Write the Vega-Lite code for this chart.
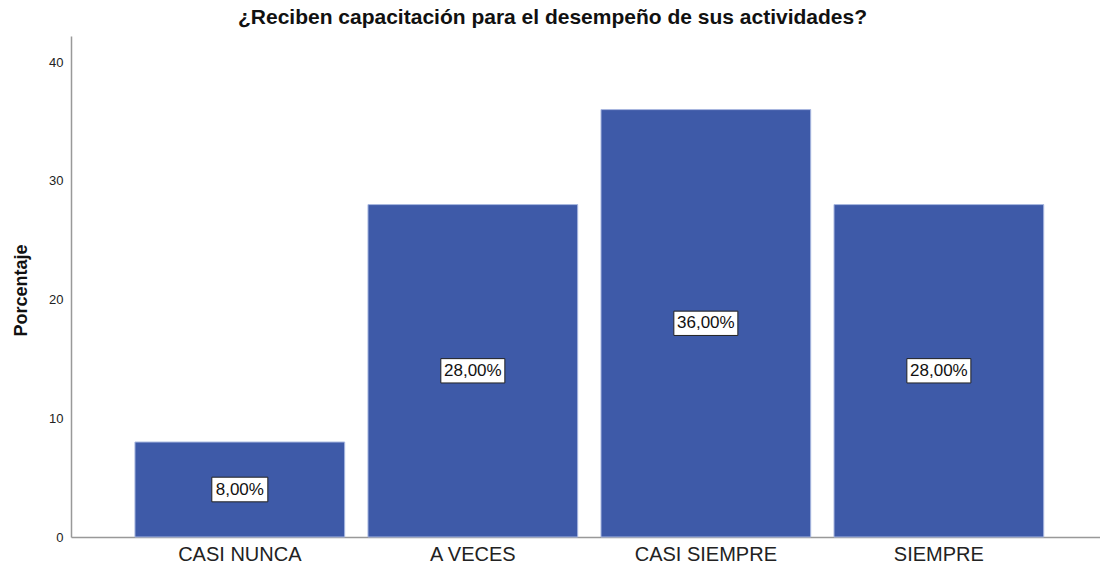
{
  "$schema": "https://vega.github.io/schema/vega-lite/v6.json",
  "autosize": "none",
  "width": 1029,
  "height": 501,
  "padding": {"left": 71, "top": 36, "right": 0, "bottom": 30},
  "background": "white",
  "config": {"view": {"stroke": null}, "font": "Liberation Sans"},
  "title": {"text": "¿Reciben capacitación para el desempeño de sus actividades?", "fontSize": 21, "fontWeight": "bold", "font": "Liberation Sans", "color": "#111", "anchor": "middle", "dx": -33, "offset": 8},
  "data": {"values": [
    {"cat": "CASI NUNCA", "value": 8, "label": "8,00%"},
    {"cat": "A VECES", "value": 28, "label": "28,00%"},
    {"cat": "CASI SIEMPRE", "value": 36, "label": "36,00%"},
    {"cat": "SIEMPRE", "value": 28, "label": "28,00%"}
  ]},
  "encoding": {
    "x": {"field": "cat", "type": "nominal", "sort": null,
      "scale": {"paddingInner": 0.1, "paddingOuter": 0.258, "align": 0.532},
      "axis": {"title": null, "ticks": false, "labelAngle": 0, "labelFontSize": 20, "labelColor": "#222", "labelPadding": 7, "domainColor": "#999", "domainWidth": 1.5}}
  },
  "layer": [
    {
      "mark": {"type": "bar", "color": "#3e5aa8", "stroke": "#a9b8e0", "strokeWidth": 1},
      "encoding": {
        "y": {"field": "value", "type": "quantitative",
          "scale": {"domain": [0, 42.2], "nice": false},
          "axis": {"title": "Porcentaje", "titleFontSize": 18, "titleFontWeight": "bold", "titleColor": "#111", "titlePadding": 18, "titleY": 254, "values": [0, 10, 20, 30, 40], "ticks": false, "grid": false, "labelFontSize": 13, "labelColor": "#222", "labelPadding": 8, "domainColor": "#999", "domainWidth": 1.5}}
      }
    },
    {
      "transform": [{"calculate": "datum.value / 2", "as": "mid"}, {"filter": "datum.value >= 10"}],
      "mark": {"type": "point", "shape": "M-1,-0.38L1,-0.38L1,0.38L-1,0.38Z", "size": 4096, "filled": true, "fill": "white", "stroke": "#222", "strokeWidth": 1, "opacity": 1},
      "encoding": {"y": {"field": "mid", "type": "quantitative"}}
    },
    {
      "transform": [{"calculate": "datum.value / 2", "as": "mid"}, {"filter": "datum.value < 10"}],
      "mark": {"type": "point", "shape": "M-1,-0.44L1,-0.44L1,0.44L-1,0.44Z", "size": 3136, "filled": true, "fill": "white", "stroke": "#222", "strokeWidth": 1, "opacity": 1},
      "encoding": {"y": {"field": "mid", "type": "quantitative"}}
    },
    {
      "transform": [{"calculate": "datum.value / 2", "as": "mid"}],
      "mark": {"type": "text", "fontSize": 17, "color": "#111", "baseline": "middle", "align": "center"},
      "encoding": {"y": {"field": "mid", "type": "quantitative"}, "text": {"field": "label"}}
    }
  ]
}
